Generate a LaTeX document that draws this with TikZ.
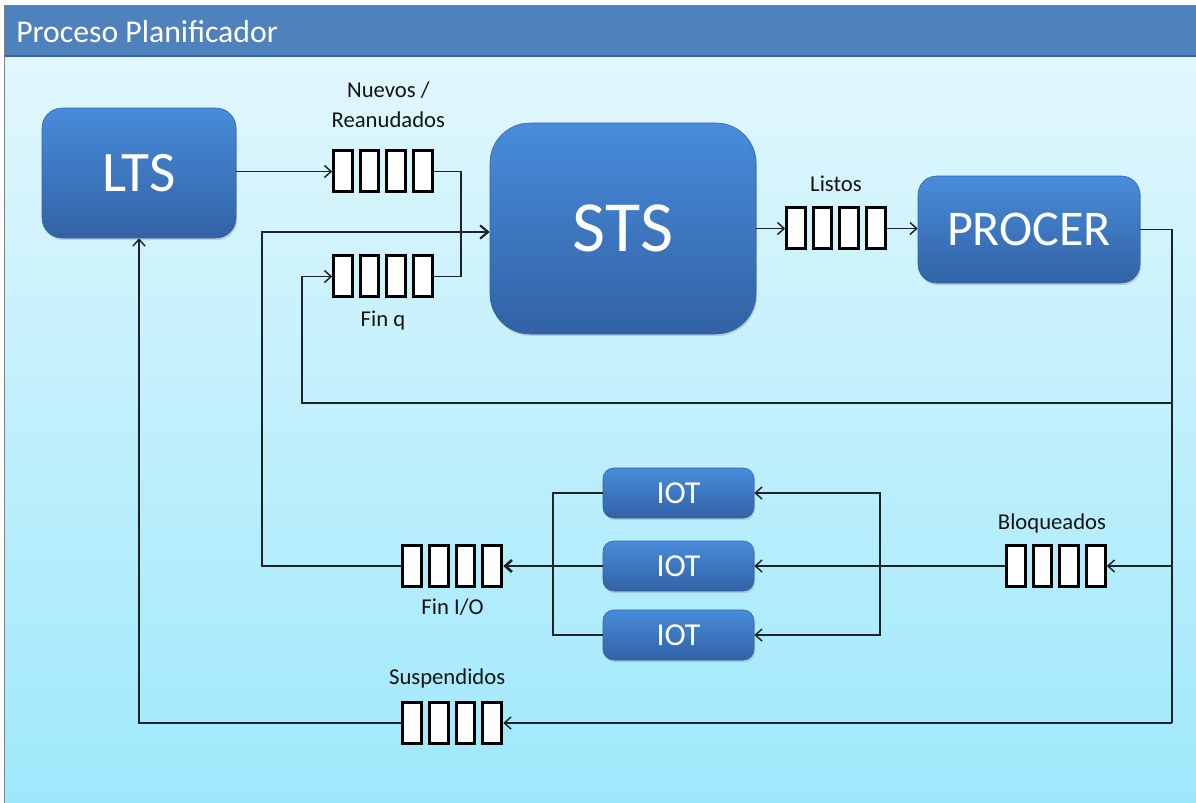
\documentclass[tikz,border=0pt]{standalone}
\usepackage{fontspec}
\setmainfont{Carlito}
\usetikzlibrary{positioning,calc,arrows.meta,shadows}

\newcommand{\cola}[2]{%
  \node[cola] (#1) at (#2) {};
  \foreach \k in {0,...,3}
    \path[celda] ($(#1.north west)+(1.2+\k*26.67,1.2)$) rectangle ++(18.6,40.6);
}

\begin{document}
\begin{tikzpicture}[x=0.75pt,y=-0.75pt,
  caja/.style={rounded corners=#1, top color=cajaA, bottom color=cajaB, draw=cajaB,
    line width=0.4pt, text=white, inner sep=0pt,
    drop shadow={opacity=0.3, shadow xshift=0.8pt, shadow yshift=-1.6pt}},
  cola/.style={inner sep=0pt, minimum width=75.75pt, minimum height=32.25pt},
  celda/.style={draw=black, fill=white, line width=2.2pt},
  etiq/.style={text=etiqC, font=\fontsize{17}{22.5}\selectfont, inner sep=0pt,
    text depth=0pt, align=center},
  linea/.style={draw=lineaC, line width=1.1pt},
  flecha/.style={linea, -{Straight Barb[length=5pt,width=9pt]}}]
\definecolor{cajaA}{RGB}{72,140,218}
\definecolor{cajaB}{RGB}{50,98,165}
\definecolor{fondoA}{RGB}{225,247,252}
\definecolor{fondoB}{RGB}{158,232,252}
\definecolor{cabecera}{RGB}{79,129,189}
\definecolor{cabeceraB}{RGB}{60,100,150}
\definecolor{lineaC}{RGB}{30,35,40}
\definecolor{etiqC}{RGB}{20,20,20}

\path[use as bounding box,fill=white] (0,0) rectangle (1196,803);
\path[top color=fondoA,bottom color=fondoB] (4,57) rectangle (1196,803);
\path[fill=cabecera] (4,5) rectangle (1196,57);
\path[draw=cabeceraB,line width=1.5pt] (4,56) -- (1196,56);
\path[draw=gray,line width=0.6pt] (4,803) -- (4,5) -- (1196,5);
\node[anchor=base west,text=white,inner sep=0pt,font=\fontsize{23.8}{24}\selectfont] (titulo) at (16,42) {Proceso Planificador};

\node[caja=15pt,minimum width=145.5pt,minimum height=97.5pt,font=\fontsize{43}{44}\selectfont] (lts) at (139,173) {LTS};
\node[caja=30pt,minimum width=199.5pt,minimum height=158.25pt,font=\fontsize{54}{56}\selectfont] (sts) at (623,228.5) {STS};
\node[caja=14pt,minimum width=166.5pt,minimum height=80.25pt,font=\fontsize{37.5}{38}\selectfont] (procer) at (1029,229.5) {PROCER};
\foreach \n/\y in {1/493,2/566,3/635}
  \node[caja=8pt,minimum width=113.25pt,minimum height=37.5pt,font=\fontsize{24}{25}\selectfont] (iot\n) at (678.5,\y) {IOT};

\cola{nuevos}{383,171.5}
\cola{finq}{383,276.5}
\cola{listos}{836,228.5}
\cola{bloqueados}{1056,566}
\cola{finio}{452.5,566}
\cola{suspendidos}{452.5,723}

\node[etiq,above=16.5pt of nuevos,xshift=4pt] (lnuevos) {Nuevos /\\Reanudados};
\node[etiq,below=9pt of finq] (lfinq) {Fin q};
\node[etiq,above=11pt of listos] (llistos) {Listos};
\node[etiq,above=11pt of bloqueados,xshift=-3pt] (lbloqueados) {Bloqueados};
\node[etiq,below=8pt of finio] (lfinio) {Fin I/O};
\node[etiq,above=12pt of suspendidos,xshift=-4pt] (lsuspendidos) {Suspendidos};

\coordinate (junta) at (461,232);
\coordinate (retorno) at (262,232);
\coordinate (vuelta) at (302,403);
\coordinate (bajada) at (1172,723);
\coordinate (rama) at (880,566);
\coordinate (union) at (553,566);

\draw[flecha] (lts.east |- nuevos) -- (nuevos.west);
\draw[linea] (nuevos.east) -| (junta);
\draw[linea] (finq.east) -| (junta);
\draw[flecha,-{Straight Barb[length=6pt,width=10pt,line width=1.6pt]}] (finio.west) -| (retorno) -- (retorno -| sts.west);
\draw[flecha] (vuelta -| bajada) -- (vuelta) |- (finq.west);
\draw[flecha] (sts.east |- listos) -- (listos.west);
\draw[flecha] (listos.east) -- (procer.west |- listos);
\draw[linea] (procer.east) -| (bajada);
\draw[flecha] (bajada |- bloqueados) -- (bloqueados.east);
\draw[flecha] (bajada) -- (suspendidos.east);
\draw[linea,line width=2pt] (bloqueados.west) -- (rama);
\draw[flecha] (rama) -- (iot2.east);
\draw[flecha] (rama) |- (iot1.east);
\draw[flecha] (rama) |- (iot3.east);
\draw[linea] (iot1.west) -| (union);
\draw[linea] (iot3.west) -| (union);
\draw[linea] (iot2.west) -- (union);
\draw[flecha,line width=2pt] (union) -- (finio.east);
\draw[flecha] (suspendidos.west) -| (lts.south);
\end{tikzpicture}
\end{document}
